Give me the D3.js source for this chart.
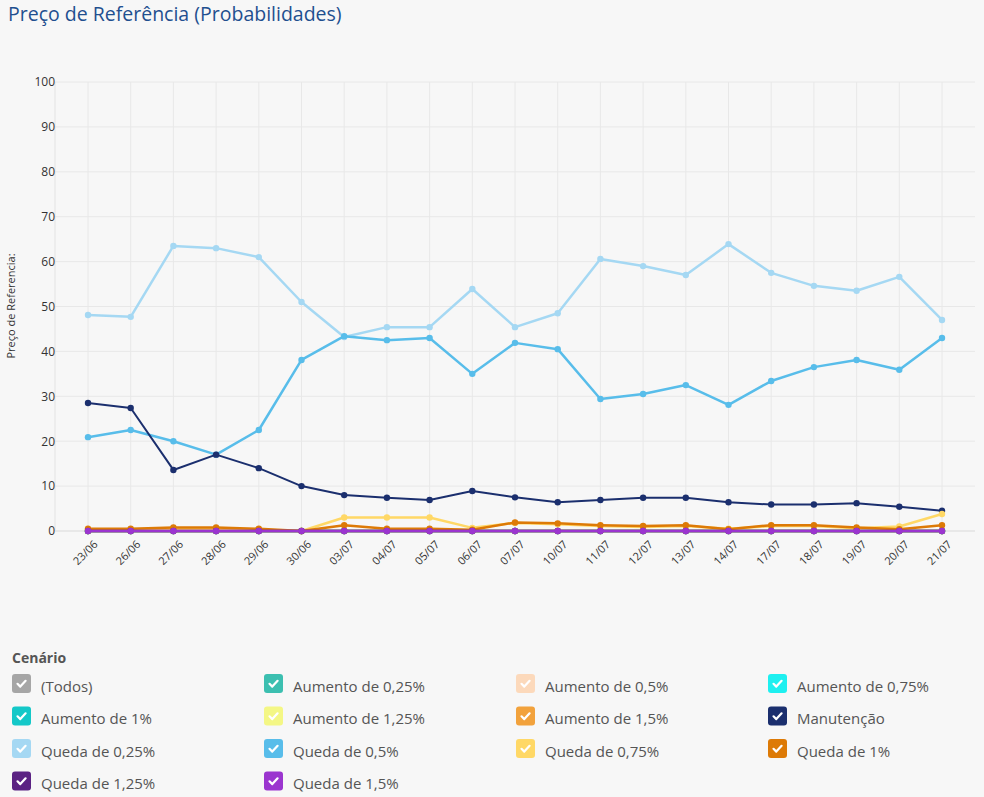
<!DOCTYPE html>
<html><head><meta charset="utf-8">
<script src="https://cdn.jsdelivr.net/npm/d3@7"></script>
<style>
html,body{margin:0;padding:0;background:#f7f7f7;}
svg{display:block;font-family:"Open Sans","Noto Sans",sans-serif;}
</style></head>
<body>
<svg id="chart" width="984" height="797"></svg>
<script>
const dates = ["23/06","26/06","27/06","28/06","29/06","30/06","03/07","04/07","05/07","06/07","07/07","10/07","11/07","12/07","13/07","14/07","17/07","18/07","19/07","20/07","21/07"];
const yTicks = [0,10,20,30,40,50,60,70,80,90,100];

const zeros = dates.map(() => 0);
const quedaDe025 = [48.1,47.7,63.5,63.0,61.0,51.0,43.2,45.4,45.4,53.9,45.4,48.5,60.6,59.0,57.0,63.9,57.5,54.6,53.5,56.6,47.0];
const quedaDe05  = [20.9,22.5,20.0,17.0,22.5,38.1,43.4,42.5,43.0,35.0,41.9,40.5,29.4,30.5,32.5,28.1,33.4,36.5,38.1,35.9,43.0];
const manutencao = [28.5,27.4,13.6,17.0,14.0,10.0,8.0,7.4,6.9,8.9,7.5,6.4,6.9,7.4,7.4,6.4,5.9,5.9,6.2,5.4,4.5];
const quedaDe075 = [0.3,0.3,0.5,0.5,0.3,0,3.0,3.0,3.0,0.7,1.8,1.5,1.1,0.9,1.1,0.5,1.1,1.1,0.6,1.0,3.8];
const quedaDe1   = [0.5,0.5,0.8,0.8,0.5,0,1.3,0.5,0.5,0.3,1.9,1.7,1.3,1.1,1.3,0.4,1.3,1.3,0.8,0.4,1.3];

const legendItems = [
  {name:"(Todos)", color:"#a6a6a6"},
  {name:"Aumento de 0,25%", color:"#3cbfb0"},
  {name:"Aumento de 0,5%", color:"#fcd9bb"},
  {name:"Aumento de 0,75%", color:"#1ef0f0"},
  {name:"Aumento de 1%", color:"#14c8c8"},
  {name:"Aumento de 1,25%", color:"#f4f785"},
  {name:"Aumento de 1,5%", color:"#f2a23c"},
  {name:"Manutenção", color:"#1b2f6e"},
  {name:"Queda de 0,25%", color:"#a5d8f3"},
  {name:"Queda de 0,5%", color:"#58bdea"},
  {name:"Queda de 0,75%", color:"#ffd866"},
  {name:"Queda de 1%", color:"#dd7a06"},
  {name:"Queda de 1,25%", color:"#5b2283"},
  {name:"Queda de 1,5%", color:"#9b35cf"}
];
const colorOf = n => legendItems.find(d => d.name === n).color;

// drawing order: bottom first
const series = [
  {name:"Aumento de 0,25%", values:zeros, w:2.5},
  {name:"Aumento de 0,5%", values:zeros, w:2.5},
  {name:"Aumento de 0,75%", values:zeros, w:2.5},
  {name:"Aumento de 1%", values:zeros, w:2.5},
  {name:"Aumento de 1,25%", values:zeros, w:2.5},
  {name:"Aumento de 1,5%", values:zeros, w:2.5},
  {name:"Queda de 0,25%", values:quedaDe025, w:2.5},
  {name:"Queda de 0,5%", values:quedaDe05, w:2.5},
  {name:"Manutenção", values:manutencao, w:2},
  {name:"Queda de 0,75%", values:quedaDe075, w:2.5},
  {name:"Queda de 1%", values:quedaDe1, w:2.5},
  {name:"Queda de 1,25%", values:zeros, w:2.5},
  {name:"Queda de 1,5%", values:zeros, w:2.5}
];

const svg = d3.select("#chart");
const plotLeft = 55, plotRight = 975, plotTop = 82, plotBottom = 531;

const x = d3.scalePoint().domain(dates).range([88, 942]);
const y = d3.scaleLinear().domain([0,100]).range([plotBottom, plotTop]);

// title
svg.append("text").attr("x", 8).attr("y", 21)
  .attr("font-size", 19.5).attr("fill", "#1f4f8f")
  .text("Preço de Referência (Probabilidades)");

// grid
const g = svg.append("g");
g.selectAll(".hg").data(yTicks).join("line")
  .attr("x1", plotLeft).attr("x2", plotRight)
  .attr("y1", d => y(d)).attr("y2", d => y(d))
  .attr("stroke", d => d === 0 ? "#d9d9d9" : "#e8e8e8").attr("stroke-width", 1);
g.selectAll(".vg").data(dates).join("line")
  .attr("x1", d => x(d)).attr("x2", d => x(d))
  .attr("y1", plotTop).attr("y2", plotBottom)
  .attr("stroke", "#e8e8e8").attr("stroke-width", 1);
g.append("line").attr("x1", plotLeft).attr("x2", plotLeft).attr("y1", plotTop).attr("y2", plotBottom)
  .attr("stroke", "#e3e3e3");

// y axis
const yAxis = svg.append("g").attr("transform", `translate(${plotLeft},0)`)
  .call(d3.axisLeft(y).tickValues(yTicks).tickSize(0).tickPadding(0));
yAxis.select(".domain").remove();
yAxis.selectAll("text").attr("font-size", 12).attr("fill", "#333")
  .attr("font-family", "'Open Sans','Noto Sans',sans-serif");

// y title
svg.append("text").attr("transform", "translate(15,306) rotate(-90)")
  .attr("text-anchor", "middle").attr("font-size", 11).attr("fill", "#333")
  .text("Preço de Referencia:");

// x axis
const xAxis = svg.append("g").attr("transform", `translate(0,${plotBottom})`)
  .call(d3.axisBottom(x).tickSize(0).tickPadding(0));
xAxis.select(".domain").remove();
xAxis.selectAll("text")
  .attr("font-size", 11).attr("fill", "#333")
  .attr("font-family", "'Open Sans','Noto Sans',sans-serif")
  .attr("text-anchor", "end")
  .attr("dy", null).attr("y", 0)
  .attr("transform", "translate(10,14) rotate(-45)");

// lines
const line = d3.line().x((d,i) => x(dates[i])).y(d => y(d));
series.forEach(s => {
  const c = colorOf(s.name);
  const sg = svg.append("g");
  sg.append("path").datum(s.values).attr("d", line)
    .attr("fill", "none").attr("stroke", c).attr("stroke-width", s.w)
    .attr("stroke-linejoin", "round");
  sg.selectAll("circle").data(s.values).join("circle")
    .attr("cx", (d,i) => x(dates[i])).attr("cy", d => y(d))
    .attr("r", 3.2).attr("fill", c);
});

// legend
svg.append("text").attr("x", 12).attr("y", 663)
  .attr("font-size", 14).attr("font-weight", "bold").attr("fill", "#555")
  .text("Cenário");
const colX = [12, 264, 516, 768];
const rowY = [674, 706.5, 739, 771.5];
const lg = svg.append("g");
legendItems.forEach((d, i) => {
  const cx = colX[i % 4], ry = rowY[Math.floor(i / 4)];
  const it = lg.append("g").attr("transform", `translate(${cx},${ry})`);
  it.append("rect").attr("width", 19).attr("height", 19).attr("rx", 3).attr("fill", d.color);
  it.append("path").attr("d", "M5.5,9.8 L8.3,12.6 L13.6,6.8")
    .attr("fill", "none").attr("stroke", "#fff").attr("stroke-width", 2.2)
    .attr("stroke-linecap", "round").attr("stroke-linejoin", "round");
  it.append("text").attr("x", 29).attr("y", 17.5).attr("font-size", 15).attr("fill", "#555")
    .text(d.name);
});
</script>
</body></html>
